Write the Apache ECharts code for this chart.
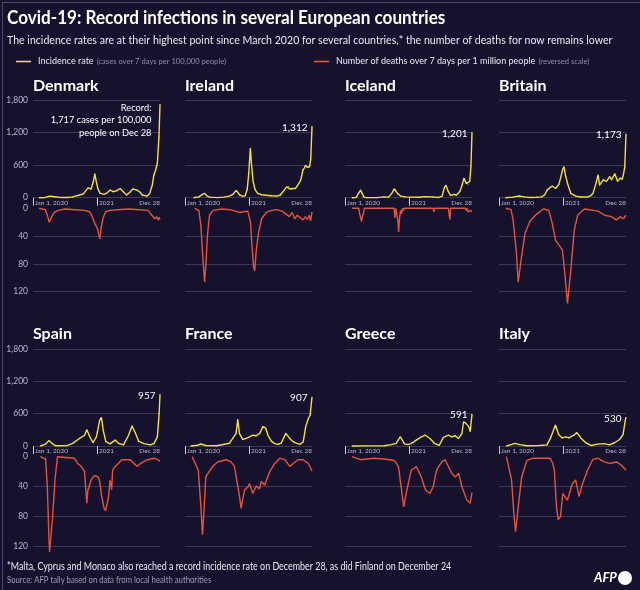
<!DOCTYPE html>
<html><head><meta charset="utf-8">
<script src="https://cdn.jsdelivr.net/npm/echarts@6/dist/echarts.min.js"></script>
<style>html,body{margin:0;padding:0;background:#16122e}#c{width:640px;height:590px}</style>
</head><body><div id="c"></div><script>
// ---------------- DATA ----------------
const countries = ['Denmark','Ireland','Iceland','Britain','Spain','France','Greece','Italy'];
const xTickDates = ['2020-01-01','2021-01-01','2021-12-28'];
const xTickLabels = ['Jan 1, 2020','2021','Dec 28'];
const incidenceTicks = [0,600,1200,1800];
const deathTicks = [0,40,80,120];

const denmarkCases = [['2020-02-05',0],['2020-03-10',5],['2020-04-07',30],['2020-05-05',18],['2020-06-05',5],['2020-07-15',5],['2020-08-15',15],['2020-09-24',50],['2020-10-15',70],['2020-11-11',180],['2020-11-28',160],['2020-12-10',280],['2020-12-20',440],['2020-12-28',300],['2021-01-06',170],['2021-01-18',85],['2021-02-10',60],['2021-03-01',90],['2021-03-17',140],['2021-04-05',110],['2021-04-25',130],['2021-05-14',170],['2021-06-01',110],['2021-06-20',50],['2021-07-11',110],['2021-07-25',160],['2021-08-19',140],['2021-09-05',100],['2021-09-17',50],['2021-10-16',30],['2021-10-30',80],['2021-11-14',235],['2021-11-23',420],['2021-12-03',510],['2021-12-13',640],['2021-12-22',1120],['2021-12-28',1717]];
const denmarkDeaths = [['2020-02-05',0],['2020-03-12',2],['2020-03-25',12],['2020-04-03',20],['2020-04-15',13],['2020-05-01',6],['2020-05-25',3],['2020-07-01',1],['2020-09-01',2],['2020-10-20',3],['2020-11-21',5],['2020-12-05',12],['2020-12-20',22],['2021-01-05',30],['2021-01-12',38],['2021-01-18',44],['2021-01-25',28],['2021-02-05',14],['2021-02-20',5],['2021-03-15',3],['2021-05-01',2],['2021-07-01',1],['2021-09-01',2],['2021-10-20',3],['2021-11-01',7],['2021-11-15',11],['2021-11-28',15],['2021-12-08',12],['2021-12-18',17],['2021-12-23',13],['2021-12-28',16]];

const irelandCases = [['2020-02-20',0],['2020-03-20',15],['2020-04-10',60],['2020-04-22',80],['2020-05-05',35],['2020-05-20',10],['2020-07-01',2],['2020-08-10',10],['2020-09-10',30],['2020-10-01',60],['2020-10-20',135],['2020-10-28',110],['2020-11-10',50],['2020-11-25',25],['2020-12-10',35],['2020-12-22',150],['2020-12-31',450],['2021-01-09',910],['2021-01-16',600],['2021-01-25',300],['2021-02-05',150],['2021-02-20',80],['2021-03-15',55],['2021-04-10',45],['2021-05-10',35],['2021-06-10',30],['2021-06-30',50],['2021-07-20',130],['2021-08-05',200],['2021-08-15',210],['2021-08-27',160],['2021-09-10',170],['2021-09-25',170],['2021-10-14',265],['2021-10-25',330],['2021-11-06',510],['2021-11-15',550],['2021-11-21',600],['2021-12-01',560],['2021-12-14',570],['2021-12-21',720],['2021-12-28',1312]];
const irelandDeaths = [['2020-02-25',0],['2020-03-20',3],['2020-04-01',25],['2020-04-12',70],['2020-04-22',106],['2020-04-30',80],['2020-05-08',40],['2020-05-20',10],['2020-06-10',3],['2020-08-01',1],['2020-09-15',2],['2020-10-15',4],['2020-11-10',6],['2020-12-01',5],['2020-12-25',4],['2021-01-10',20],['2021-01-20',60],['2021-01-28',85],['2021-02-03',90],['2021-02-12',60],['2021-02-25',35],['2021-03-15',15],['2021-04-10',6],['2021-05-10',3],['2021-06-10',2],['2021-07-10',4],['2021-08-01',8],['2021-08-20',12],['2021-09-05',6],['2021-09-20',15],['2021-10-05',10],['2021-10-20',13],['2021-11-05',17],['2021-11-20',12],['2021-12-01',16],['2021-12-12',10],['2021-12-20',18],['2021-12-28',5]];

const icelandCases = [['2020-02-10',0],['2020-03-05',5],['2020-03-20',90],['2020-03-30',140],['2020-04-08',80],['2020-04-18',15],['2020-05-01',2],['2020-07-01',1],['2020-08-10',15],['2020-09-05',10],['2020-09-25',80],['2020-10-08',160],['2020-10-18',150],['2020-10-30',70],['2020-11-15',30],['2020-12-10',15],['2021-01-15',10],['2021-03-01',8],['2021-04-01',20],['2021-05-15',15],['2021-06-20',5],['2021-07-10',30],['2021-07-22',180],['2021-08-01',230],['2021-08-12',130],['2021-08-27',40],['2021-09-15',60],['2021-10-01',50],['2021-10-20',120],['2021-11-01',230],['2021-11-12',360],['2021-11-25',260],['2021-12-05',240],['2021-12-15',300],['2021-12-22',570],['2021-12-28',1201]];
const icelandDeaths = [['2020-02-10',0],['2020-03-20',0],['2020-03-25',8],['2020-03-31',14],['2020-04-05',19],['2020-04-10',11],['2020-04-15',8],['2020-04-20',0],['2020-10-08',0],['2020-10-13',14],['2020-10-18',0],['2020-10-25',11],['2020-10-30',19],['2020-11-03',34],['2020-11-08',14],['2020-11-14',3],['2020-11-20',8],['2020-11-25',0],['2020-12-01',3],['2020-12-05',0],['2021-05-20',0],['2021-05-24',5],['2021-05-28',0],['2021-08-15',0],['2021-08-20',11],['2021-08-24',16],['2021-08-28',0],['2021-11-20',0],['2021-11-24',3],['2021-11-28',0],['2021-12-05',5],['2021-12-10',3],['2021-12-15',5],['2021-12-20',3],['2021-12-28',5]];

const britainCases = [['2020-02-08',0],['2020-03-20',10],['2020-04-10',25],['2020-04-30',30],['2020-05-25',15],['2020-06-20',5],['2020-08-01',8],['2020-09-01',15],['2020-09-18',50],['2020-10-03',140],['2020-10-20',190],['2020-11-01',215],['2020-11-20',170],['2020-12-09',250],['2020-12-20',380],['2020-12-30',520],['2021-01-07',570],['2021-01-15',420],['2021-01-27',265],['2021-02-15',80],['2021-03-16',30],['2021-04-15',12],['2021-05-24',15],['2021-06-10',40],['2021-06-22',80],['2021-07-08',250],['2021-07-21',420],['2021-07-30',230],['2021-08-19',330],['2021-09-07',300],['2021-09-26',390],['2021-10-06',330],['2021-10-25',440],['2021-11-10',300],['2021-11-24',360],['2021-12-06',340],['2021-12-13',420],['2021-12-21',570],['2021-12-28',1173]];
const britainDeaths = [['2020-02-08',0],['2020-03-10',2],['2020-03-22',17],['2020-04-10',65],['2020-04-20',106],['2020-05-09',70],['2020-05-29',36],['2020-06-27',18],['2020-08-05',8],['2020-09-12',1],['2020-10-12',3],['2020-11-01',22],['2020-11-20',46],['2020-12-09',53],['2020-12-29',60],['2021-01-12',94],['2021-01-27',137],['2021-02-15',89],['2021-03-07',31],['2021-03-26',10],['2021-05-04',1],['2021-07-21',4],['2021-08-28',10],['2021-10-06',12],['2021-11-04',17],['2021-11-24',12],['2021-12-13',15],['2021-12-28',10]];

const spainCases = [['2020-02-12',0],['2020-03-15',40],['2020-04-01',100],['2020-04-21',40],['2020-05-10',5],['2020-07-17',10],['2020-08-15',50],['2020-09-23',140],['2020-10-22',200],['2020-11-04',300],['2020-11-20',180],['2020-12-09',60],['2020-12-29',170],['2021-01-17',480],['2021-01-27',530],['2021-02-06',290],['2021-02-21',80],['2021-03-17',40],['2021-04-15',110],['2021-05-04',50],['2021-06-02',20],['2021-07-01',200],['2021-07-21',370],['2021-08-09',240],['2021-08-28',90],['2021-09-26',45],['2021-11-04',20],['2021-11-24',50],['2021-12-13',170],['2021-12-23',600],['2021-12-28',957]];
const spainDeaths = [['2020-02-12',0],['2020-03-13',3],['2020-03-23',40],['2020-04-01',107],['2020-04-05',127],['2020-04-21',84],['2020-05-06',31],['2020-05-20',0],['2020-08-25',2],['2020-09-13',9],['2020-10-03',13],['2020-10-22',20],['2020-11-04',62],['2020-11-10',45],['2020-11-30',30],['2020-12-19',25],['2021-01-08',27],['2021-01-17',33],['2021-01-27',51],['2021-02-11',69],['2021-02-19',72],['2021-03-07',56],['2021-03-17',31],['2021-03-26',44],['2021-04-01',18],['2021-04-15',13],['2021-05-04',9],['2021-05-23',4],['2021-06-02',2],['2021-07-11',4],['2021-08-19',13],['2021-09-07',9],['2021-10-16',4],['2021-11-24',2],['2021-12-13',4],['2021-12-28',6]];

const franceCases = [['2020-02-03',0],['2020-03-15',15],['2020-04-01',37],['2020-04-29',10],['2020-07-01',5],['2020-09-11',50],['2020-09-30',140],['2020-10-19',230],['2020-10-29',490],['2020-11-08',230],['2020-11-27',120],['2020-12-16',140],['2021-01-04',170],['2021-01-23',200],['2021-02-12',190],['2021-03-03',230],['2021-03-22',360],['2021-04-07',330],['2021-04-20',200],['2021-05-09',90],['2021-05-29',45],['2021-06-17',30],['2021-07-06',60],['2021-07-31',235],['2021-08-23',140],['2021-09-11',80],['2021-10-01',50],['2021-10-20',30],['2021-11-08',80],['2021-11-22',360],['2021-12-07',510],['2021-12-17',570],['2021-12-28',907]];
const franceDeaths = [['2020-02-11',0],['2020-03-17',18],['2020-04-01',67],['2020-04-10',104],['2020-04-20',67],['2020-04-29',27],['2020-05-18',20],['2020-06-07',13],['2020-07-06',7],['2020-08-23',4],['2020-09-21',7],['2020-10-10',13],['2020-10-23',31],['2020-11-08',53],['2020-11-17',69],['2020-12-06',45],['2020-12-26',40],['2021-01-04',36],['2021-01-23',49],['2021-02-12',39],['2021-03-03',43],['2021-03-13',33],['2021-04-01',38],['2021-04-11',40],['2021-04-30',20],['2021-05-29',9],['2021-06-26',2],['2021-07-25',4],['2021-08-23',13],['2021-09-11',9],['2021-10-10',4],['2021-11-08',4],['2021-12-07',9],['2021-12-28',19]];

const greeceCases = [['2020-02-10',0],['2020-05-01',3],['2020-08-12',5],['2020-09-20',25],['2020-10-19',45],['2020-11-13',172],['2020-12-06',40],['2020-12-26',25],['2021-01-14',45],['2021-02-12',110],['2021-03-13',170],['2021-04-05',200],['2021-05-01',140],['2021-05-29',45],['2021-06-23',10],['2021-07-17',160],['2021-08-15',200],['2021-09-03',170],['2021-09-23',190],['2021-10-12',140],['2021-10-31',230],['2021-11-10',450],['2021-11-23',420],['2021-12-09',360],['2021-12-18',270],['2021-12-28',591]];
const greeceDeaths = [['2020-02-10',0],['2020-03-30',4],['2020-06-15',2],['2020-08-12',3],['2020-10-09',5],['2020-11-02',13],['2020-11-17',40],['2020-12-02',67],['2020-12-16',49],['2021-01-14',18],['2021-02-12',13],['2021-03-13',27],['2021-04-05',44],['2021-05-01',49],['2021-05-20',40],['2021-06-08',18],['2021-07-07',7],['2021-07-27',4],['2021-08-15',13],['2021-09-03',22],['2021-09-23',27],['2021-10-12',22],['2021-10-31',40],['2021-11-29',58],['2021-12-18',62],['2021-12-28',48]];

const italyCases = [['2020-02-12',0],['2020-03-15',30],['2020-04-01',50],['2020-04-30',25],['2020-06-08',5],['2020-08-20',8],['2020-10-02',20],['2020-10-25',170],['2020-11-19',390],['2020-12-08',210],['2020-12-28',150],['2021-01-16',170],['2021-02-04',150],['2021-03-05',200],['2021-03-21',250],['2021-04-13',150],['2021-05-12',60],['2021-06-10',10],['2021-07-19',35],['2021-08-26',45],['2021-09-24',20],['2021-10-23',60],['2021-11-21',120],['2021-12-11',210],['2021-12-24',480],['2021-12-28',530]];
const italyDeaths = [['2020-02-12',0],['2020-03-13',31],['2020-03-26',76],['2020-04-05',100],['2020-04-20',67],['2020-05-10',27],['2020-06-08',5],['2020-07-16',2],['2020-10-20',2],['2020-11-02',8],['2020-11-13',18],['2020-11-25',67],['2020-12-05',84],['2020-12-18',80],['2020-12-31',49],['2021-01-26',58],['2021-02-24',36],['2021-03-15',31],['2021-04-03',53],['2021-04-23',36],['2021-05-22',18],['2021-06-20',4],['2021-07-19',2],['2021-08-26',7],['2021-09-24',9],['2021-11-02',7],['2021-12-01',11],['2021-12-28',18]];

const incidenceData = [denmarkCases, irelandCases, icelandCases, britainCases, spainCases, franceCases, greeceCases, italyCases];
const deathsData = [denmarkDeaths, irelandDeaths, icelandDeaths, britainDeaths, spainDeaths, franceDeaths, greeceDeaths, italyDeaths];

const titleText = 'Covid-19: Record infections in several European countries';
const subtitleText = 'The incidence rates are at their highest point since March 2020 for several countries,* the number of deaths for now remains lower';
const footnoteText = '*Malta, Cyprus and Monaco also reached a record incidence rate on December 28, as did Finland on December 24';
const sourceText = 'Source: AFP tally based on data from local health authorities';

// ---------------- STYLE / LAYOUT ----------------
const FONT = 'Lato, "Noto Sans", sans-serif';
const YELLOW = '#f3e13a', RED = '#e5533d', GRID = '#3b3959', BG = '#16122e';
const incName = 'Incidence rate';
const dthName = 'Number of deaths over 7 days per 1 million people';
const colX = [33, 185, 345, 499];
const gridW = 127;
const rows = [
  {nameTop: 78, incTop: 100, incH: 97.7, dthTop: 208.3, dthH: 83.4},
  {nameTop: 326, incTop: 349, incH: 97, dthTop: 456.7, dthH: 90}
];
const ts = s => new Date(s + 'T00:00:00Z').getTime();
const fmt = v => Number(v).toLocaleString('en-US');
const toXY = arr => arr.map(p => [ts(p[0]), p[1]]);

const grids = [], xAxes = [], yAxes = [], series = [], titles = [];
const xMin = ts(xTickDates[0]), xMax = ts(xTickDates[xTickDates.length - 1]);

countries.forEach((name, i) => {
  const r = rows[Math.floor(i / 4)], c = i % 4, x0 = colX[c];
  const showY = c === 0;
  titles.push({text: name, left: x0, top: r.nameTop, padding: 0,
    textStyle: {color: '#fff', fontSize: 16, fontWeight: 'bold', fontFamily: FONT}});

  const gi = grids.length;
  grids.push({left: x0, top: r.incTop, width: gridW, height: r.incH, containLabel: false});
  grids.push({left: x0, top: r.dthTop, width: gridW, height: r.dthH, containLabel: false});

  xAxes.push({type: 'value', gridIndex: gi, min: xMin, max: xMax, position: 'bottom',
    axisLine: {show: false}, splitLine: {show: false},
    axisTick: {show: true, customValues: [ts(xTickDates[0]), ts(xTickDates[1])], length: 8, lineStyle: {color: '#c8c8d8', width: 1}},
    axisLabel: {show: true, customValues: xTickDates.map(ts), margin: 1.5, fontSize: 6.5, color: '#b4b4c6', fontFamily: FONT,
      align: 'left', alignMaxLabel: 'right', alignMinLabel: 'left', padding: [0, 0, 0, 2],
      showMinLabel: true, showMaxLabel: true, hideOverlap: false,
      formatter: v => { const k = xTickDates.findIndex(d => Math.abs(ts(d) - v) < 864e5); return k >= 0 ? xTickLabels[k] : ''; }}
  });
  xAxes.push({type: 'value', gridIndex: gi + 1, min: xMin, max: xMax, show: false, splitLine: {show: false}});

  yAxes.push({type: 'value', gridIndex: gi, min: incidenceTicks[0], max: incidenceTicks[incidenceTicks.length - 1], interval: incidenceTicks[1] - incidenceTicks[0],
    axisLine: {show: false}, axisTick: {show: false},
    splitLine: {show: true, lineStyle: {color: GRID, width: 1}},
    axisLabel: {show: showY, color: '#b4b4c6', fontSize: 8.5, margin: 5, fontFamily: FONT, formatter: v => fmt(v)}});
  yAxes.push({type: 'value', gridIndex: gi + 1, inverse: true, min: deathTicks[0], max: deathTicks[deathTicks.length - 1], interval: deathTicks[1] - deathTicks[0],
    axisLine: {show: false}, axisTick: {show: false},
    splitLine: {show: true, lineStyle: {color: ['rgba(0,0,0,0)', GRID, GRID, GRID], width: 1}},
    axisLabel: {show: showY, color: '#b4b4c6', fontSize: 8.5, margin: 5, fontFamily: FONT, formatter: v => fmt(v)}});

  const inc = toXY(incidenceData[i]);
  const last = inc[inc.length - 1];
  const isRecord = i === 0;
  const incSeriesData = inc.map((p, k) => {
    if (k < inc.length - 1) return p;
    return {value: p, label: {show: true, position: 'left', distance: isRecord ? 8 : 4,
      color: '#fff', fontSize: isRecord ? 9.3 : 10, fontFamily: FONT, align: 'right',
      verticalAlign: isRecord ? 'top' : 'middle', lineHeight: 12.5, offset: isRecord ? [0, -3] : [0, 1],
      formatter: isRecord ? ('Record:\n' + fmt(last[1]) + ' cases per 100,000\npeople on ' + xTickLabels[2]) : fmt(last[1])}};
  });
  series.push({name: incName, type: 'line', xAxisIndex: gi, yAxisIndex: gi, data: incSeriesData,
    color: YELLOW, lineStyle: {color: YELLOW, width: 1.4}, symbol: 'circle', symbolSize: 1, showSymbol: true, showAllSymbol: true,
    clip: false, silent: true, animation: false, z: 5});
  series.push({name: dthName, type: 'line', xAxisIndex: gi + 1, yAxisIndex: gi + 1, data: toXY(deathsData[i]),
    color: RED, lineStyle: {color: RED, width: 1.4}, showSymbol: false, symbol: 'none',
    clip: false, silent: true, animation: false, z: 5});
});

const legendText = {color: '#e8e8f0', fontFamily: FONT, padding: [0, 0, 0, 2],
  rich: {a: {fontSize: 9, color: '#e8e8f0', fontFamily: FONT}, b: {fontSize: 7.6, color: '#8e8ea6', fontFamily: FONT}}};

const option = {
  backgroundColor: BG,
  animation: false,
  textStyle: {fontFamily: FONT},
  title: titles,
  legend: [
    {data: [incName], left: 16, top: 55.5, padding: 0, icon: 'rect', itemWidth: 15, itemHeight: 1.6, itemGap: 0, selectedMode: false,
      formatter: n => '{a|' + n + '} {b|(cases over 7 days per 100,000 people)}', textStyle: legendText},
    {data: [dthName], left: 314, top: 55.5, padding: 0, icon: 'rect', itemWidth: 15, itemHeight: 1.6, itemGap: 0, selectedMode: false,
      formatter: n => '{a|' + n + '} {b|(reversed scale)}', textStyle: legendText}
  ],
  grid: grids, xAxis: xAxes, yAxis: yAxes, series: series,
  graphic: [
    {type: 'rect', left: 0, top: 0, shape: {width: 639, height: 589}, style: {fill: 'none', stroke: '#4a4866', lineWidth: 1}, silent: true},
    {type: 'text', x: 7, y: 18, scaleX: 0.9, style: {text: titleText, fill: '#fff', font: 'bold 19px ' + FONT, textVerticalAlign: 'middle'}},
    {type: 'text', x: 7, y: 40, scaleX: 0.92, style: {text: subtitleText, fill: '#e8e8f0', font: '11.5px ' + FONT, textVerticalAlign: 'middle'}},
    {type: 'text', x: 7, y: 566, scaleX: 0.81, style: {text: footnoteText, fill: '#e8e8f0', font: '11px ' + FONT, textVerticalAlign: 'middle'}},
    {type: 'text', x: 7, y: 580, scaleX: 0.91, style: {text: sourceText, fill: '#9c9cb2', font: '8.5px ' + FONT, textVerticalAlign: 'middle'}},
    {type: 'text', x: 594, y: 578, style: {text: 'AFP', fill: '#fff', font: 'italic bold 13px ' + FONT, textVerticalAlign: 'middle'}},
    {type: 'circle', shape: {cx: 625, cy: 578, r: 7}, style: {fill: '#fff'}}
  ]
};
const chart = echarts.init(document.getElementById('c'), null, {renderer: 'canvas'});
chart.setOption(option);
</script></body></html>
